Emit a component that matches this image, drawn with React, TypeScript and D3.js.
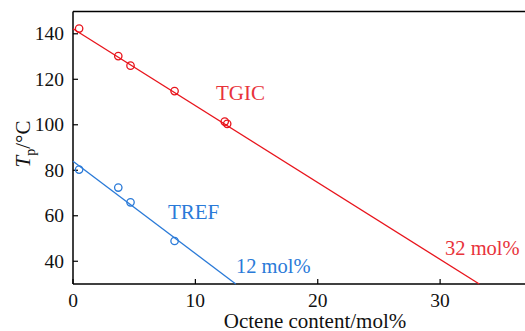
import React from 'react'
import * as d3 from 'd3'

// data
const tgicX = [0.5, 3.7, 4.7, 8.3, 12.4, 12.6]
const tgicY = [142.3, 130.2, 126, 114.8, 101.4, 100.4]
const tgicFit = [[0, 142.2], [33.2, 30]]

const trefX = [0.5, 3.7, 4.7, 8.3]
const trefY = [80.3, 72.4, 65.9, 48.9]
const trefFit = [[0, 84], [13.3, 30]]

const xTicks = [0, 10, 20, 30]
const yTicks = [40, 60, 80, 100, 120, 140]

const RED = '#e8141c'
const BLUE = '#2a7ad8'

const App = () => {
  const width = 525
  const height = 331
  const margin = { top: 11.5, right: -2, bottom: 47, left: 73 }
  const innerW = width - margin.left - margin.right
  const innerH = height - margin.top - margin.bottom

  const x = d3.scaleLinear().domain([0, 37.1]).range([0, innerW])
  const y = d3.scaleLinear().domain([30, 149.8]).range([innerH, 0])

  const line = d3.line<number[]>().x(d => x(d[0])).y(d => y(d[1]))

  const txt = { fontFamily: 'Liberation Serif' }

  return (
    <svg width={width} height={height} style={{ position: 'absolute', left: 0, top: 0 }}>
      <g transform={`translate(${margin.left},${margin.top})`}>
        {/* frame */}
        <line x1={0} y1={0} x2={innerW} y2={0} stroke="#000" strokeWidth={1.5} />
        <line x1={0} y1={0} x2={0} y2={innerH} stroke="#000" strokeWidth={1.5} />
        <line x1={0} y1={innerH} x2={innerW} y2={innerH} stroke="#000" strokeWidth={1.5} />

        {xTicks.map(t => (
          <g key={t} transform={`translate(${x(t)},${innerH})`}>
            <line y1={0} y2={-5} stroke="#000" strokeWidth={1.2} />
            <text y={22.5} textAnchor="middle" fontSize={19.5} fill="#111" style={txt}>{t}</text>
          </g>
        ))}
        {yTicks.map(t => (
          <g key={t} transform={`translate(0,${y(t)})`}>
            <line x1={0} x2={5} stroke="#000" strokeWidth={1.2} />
            <text x={-9} dy="0.33em" textAnchor="end" fontSize={19.5} fill="#111" style={txt}>{t}</text>
          </g>
        ))}

        <path d={line(tgicFit) || ''} fill="none" stroke={RED} strokeWidth={1.3} />
        <path d={line(trefFit) || ''} fill="none" stroke={BLUE} strokeWidth={1.3} />

        {tgicX.map((v, i) => (
          <circle key={'g' + i} cx={x(v)} cy={y(tgicY[i])} r={3.7} fill="none" stroke={RED} strokeWidth={1.3} />
        ))}
        {trefX.map((v, i) => (
          <circle key={'r' + i} cx={x(v)} cy={y(trefY[i])} r={3.7} fill="none" stroke={BLUE} strokeWidth={1.3} />
        ))}

        <text x={x(11.69)} y={y(110.7)} fontSize={21} fill="#e8333b" style={txt}>TGIC</text>
        <text x={x(7.76)} y={y(58.6)} fontSize={21} fill={BLUE} style={txt}>TREF</text>
        <text x={x(13.32)} y={y(35)} fontSize={20.5} fill={BLUE} style={txt}>12 mol%</text>
        <text x={x(30.4)} y={y(42.75)} fontSize={20.5} fill="#e8333b" style={txt}>32 mol%</text>
      </g>

      <text x={315} y={328} textAnchor="middle" fontSize={21} fill="#111" style={txt}>Octene content/mol%</text>
      <text transform="translate(30,144) rotate(-90)" textAnchor="middle" fontSize={21} fill="#111" style={txt}>
        <tspan fontStyle="italic">T</tspan>
        <tspan fontSize={14} dy={5}>p</tspan>
        <tspan dy={-5}>/°C</tspan>
      </text>
    </svg>
  )
}

export default App
